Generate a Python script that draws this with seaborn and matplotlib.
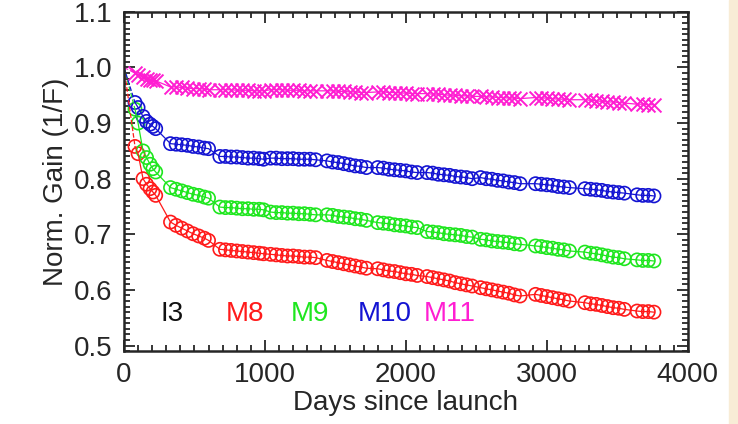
import numpy as np
import pandas as pd
import matplotlib
matplotlib.use("Agg")
import matplotlib.pyplot as plt
from matplotlib.ticker import MultipleLocator
import seaborn as sns

# ---- data ----
days = [78, 100, 135, 160, 185, 205, 225,
        330, 370, 410, 450, 490, 530, 570, 600,
        680, 720, 760, 800, 840, 880, 920, 960, 990,
        1040, 1080, 1120, 1160, 1200, 1240, 1280, 1320, 1360,
        1440, 1480, 1520, 1560, 1600, 1640, 1680, 1720,
        1800, 1840, 1880, 1920, 1960, 2000, 2040, 2080,
        2150, 2190, 2230, 2270, 2310, 2350, 2390, 2430, 2470,
        2530, 2570, 2610, 2650, 2690, 2730, 2770, 2810,
        2920, 2960, 3000, 3040, 3080, 3120, 3160,
        3270, 3310, 3350, 3390, 3430, 3470, 3510, 3550,
        3640, 3680, 3720, 3760]

m8 = [0.858, 0.845, 0.800, 0.790, 0.782, 0.776, 0.770,
      0.722, 0.716, 0.711, 0.706, 0.701, 0.697, 0.693, 0.689,
      0.673, 0.672, 0.671, 0.670, 0.669, 0.668, 0.667, 0.666, 0.665,
      0.664, 0.663, 0.662, 0.661, 0.661, 0.660, 0.659, 0.659, 0.658,
      0.653, 0.651, 0.649, 0.647, 0.645, 0.643, 0.641, 0.639,
      0.638, 0.636, 0.634, 0.633, 0.631, 0.629, 0.628, 0.626,
      0.624, 0.622, 0.620, 0.618, 0.616, 0.613, 0.611, 0.609, 0.607,
      0.604, 0.602, 0.600, 0.598, 0.596, 0.594, 0.591, 0.589,
      0.592, 0.590, 0.588, 0.586, 0.584, 0.582, 0.580,
      0.577, 0.575, 0.574, 0.572, 0.570, 0.568, 0.567, 0.565,
      0.562, 0.561, 0.561, 0.560]

m9 = [0.925, 0.900, 0.850, 0.838, 0.826, 0.818, 0.812,
      0.784, 0.781, 0.778, 0.775, 0.772, 0.770, 0.767, 0.765,
      0.749, 0.748, 0.748, 0.747, 0.746, 0.746, 0.745, 0.745, 0.744,
      0.740, 0.739, 0.739, 0.738, 0.738, 0.737, 0.737, 0.736, 0.735,
      0.735, 0.734, 0.732, 0.731, 0.730, 0.728, 0.727, 0.725,
      0.721, 0.720, 0.719, 0.717, 0.716, 0.715, 0.713, 0.712,
      0.705, 0.704, 0.703, 0.701, 0.700, 0.699, 0.698, 0.696, 0.695,
      0.691, 0.690, 0.688, 0.687, 0.686, 0.685, 0.683, 0.682,
      0.679, 0.678, 0.676, 0.675, 0.673, 0.672, 0.670,
      0.668, 0.666, 0.665, 0.663, 0.661, 0.659, 0.658, 0.656,
      0.654, 0.653, 0.653, 0.652]

m10 = [0.937, 0.928, 0.912, 0.903, 0.898, 0.894, 0.890,
       0.863, 0.862, 0.861, 0.860, 0.858, 0.857, 0.855, 0.854,
       0.840, 0.840, 0.839, 0.839, 0.838, 0.837, 0.837, 0.836, 0.835,
       0.837, 0.837, 0.836, 0.836, 0.836, 0.835, 0.835, 0.835, 0.834,
       0.832, 0.830, 0.829, 0.827, 0.825, 0.823, 0.822, 0.820,
       0.820, 0.819, 0.817, 0.816, 0.815, 0.814, 0.812, 0.811,
       0.811, 0.810, 0.808, 0.807, 0.806, 0.804, 0.803, 0.802, 0.800,
       0.802, 0.800, 0.799, 0.797, 0.796, 0.794, 0.793, 0.791,
       0.791, 0.790, 0.789, 0.788, 0.786, 0.785, 0.784,
       0.782, 0.781, 0.780, 0.779, 0.777, 0.776, 0.775, 0.774,
       0.771, 0.770, 0.770, 0.769]

m11 = [0.990, 0.987, 0.983, 0.980, 0.978, 0.977, 0.976,
       0.965, 0.965, 0.964, 0.963, 0.962, 0.962, 0.961, 0.960,
       0.960, 0.960, 0.960, 0.959, 0.959, 0.959, 0.958, 0.958, 0.958,
       0.960, 0.960, 0.960, 0.959, 0.959, 0.959, 0.958, 0.958, 0.958,
       0.958, 0.958, 0.957, 0.957, 0.956, 0.956, 0.955, 0.955,
       0.956, 0.956, 0.955, 0.955, 0.954, 0.954, 0.953, 0.953,
       0.953, 0.952, 0.952, 0.951, 0.950, 0.950, 0.949, 0.949, 0.948,
       0.948, 0.947, 0.947, 0.946, 0.946, 0.945, 0.945, 0.944,
       0.946, 0.945, 0.945, 0.944, 0.943, 0.943, 0.942,
       0.942, 0.941, 0.940, 0.939, 0.938, 0.938, 0.937, 0.936,
       0.934, 0.934, 0.933, 0.933]

start_day = 0
start_gain = 1.0

band_names = ["M8", "M9", "M10", "M11"]
band_values = [m8, m9, m10, m11]
band_colors = {"M8": "#ff1a1a", "M9": "#1ee61e", "M10": "#1414d2", "M11": "#ff1ed2"}
label_names = ["I3", "M8", "M9", "M10", "M11"]
label_colors = ["#111111", "#ff1a1a", "#1ee61e", "#1414d2", "#ff1ed2"]

rows = []
for b, vals in zip(band_names, band_values):
    for d, v in zip(days, vals):
        rows.append((b, d, v))
df = pd.DataFrame(rows, columns=["band", "day", "gain"])

start_rows = []
for b, vals in zip(band_names, band_values):
    start_rows.append((b, start_day, start_gain))
    start_rows.append((b, days[0], vals[0]))
df_start = pd.DataFrame(start_rows, columns=["band", "day", "gain"])

# ---- plot ----
sns.set_style("ticks")
plt.rcParams["font.family"] = ["Liberation Sans", "DejaVu Sans"]

fig = plt.figure(figsize=(7.38, 4.24), dpi=100)
ax = fig.add_axes([0.168, 0.172, 0.764, 0.800])

sns.lineplot(data=df, x="day", y="gain", hue="band", palette=band_colors,
             linewidth=0.9, legend=False, ax=ax, sort=True)
sns.lineplot(data=df_start, x="day", y="gain", hue="band", palette=band_colors,
             linewidth=0.9, linestyle="--", legend=False, ax=ax)

for b in band_names:
    sub = df[df.band == b]
    if b == "M11":
        sns.scatterplot(x=sub.day, y=sub.gain, marker="x", s=100,
                        color=band_colors[b], linewidth=1.4, ax=ax)
    else:
        sns.scatterplot(x=sub.day, y=sub.gain, marker="o", s=90,
                        facecolor="none", edgecolor=band_colors[b],
                        linewidth=1.2, ax=ax)

label_x = [0.085, 0.214, 0.330, 0.462, 0.577]
for name, col, xp in zip(label_names, label_colors, label_x):
    ax.text(xp, 0.110, name, color=col, transform=ax.transAxes,
            ha="center", va="center", fontsize=20)

ax.set_xlim(0, 4000)
ax.set_ylim(0.49, 1.1)
ax.xaxis.set_major_locator(MultipleLocator(1000))
ax.xaxis.set_minor_locator(MultipleLocator(100))
ax.yaxis.set_major_locator(MultipleLocator(0.1))
ax.yaxis.set_minor_locator(MultipleLocator(0.01))
ax.yaxis.set_major_formatter(matplotlib.ticker.FormatStrFormatter("%.1f"))
ax.tick_params(which="both", direction="in", top=True, right=True,
               labelsize=20, width=1.3)
ax.tick_params(which="major", length=8, pad=8)
ax.tick_params(which="minor", length=4)
for s in ax.spines.values():
    s.set_linewidth(1.8)
    s.set_visible(True)

ax.set_xlabel("Days since launch", fontsize=20, labelpad=1)
ax.set_ylabel("Norm. Gain (1/F)", fontsize=20, labelpad=4)

fig.patches.append(plt.Rectangle((0.988, 0), 0.012, 1, transform=fig.transFigure,
                                 color="#f8ecd6", zorder=-1))

fig.savefig("out.png", dpi=100)
